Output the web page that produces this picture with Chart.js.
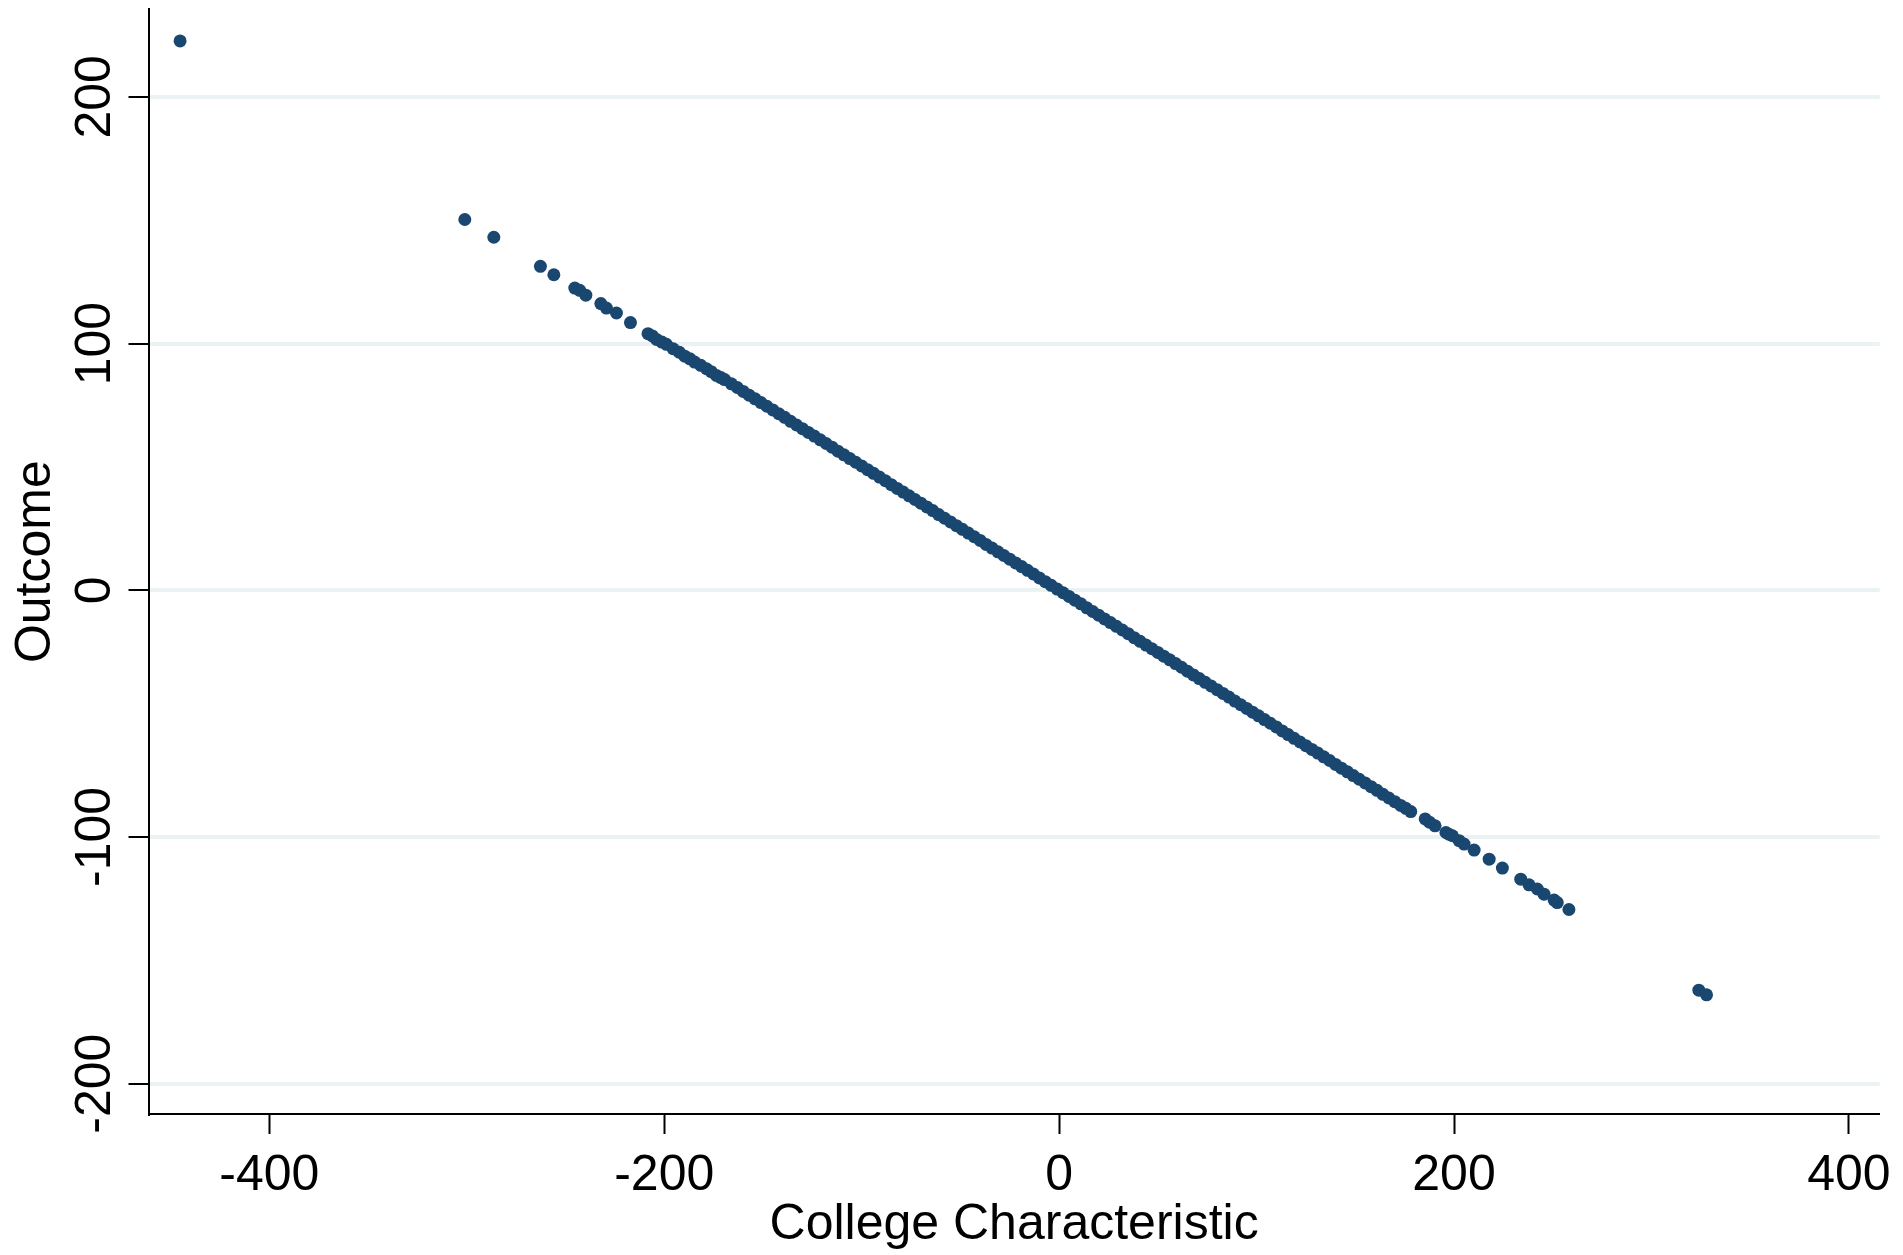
<!DOCTYPE html>
<html>
<head>
<meta charset="utf-8">
<script src="https://cdn.jsdelivr.net/npm/chart.js@4.4.1/dist/chart.umd.min.js"></script>
<style>
  html, body { margin: 0; padding: 0; background: #fff; }
</style>
</head>
<body>
<canvas id="scatter" width="1903" height="1255"></canvas>
<script>
// values
const collegeX = [
  -445.2, -301.0, -286.3, -262.7, -255.9, -245.3, -242.8, -239.7, -232.1, -229.3,
  -224.2, -217.1, -208.2, -206.0, -203.9, -201.2, -198.9, -195.5, -192.4, -189.6,
  -187.0, -184.6, -181.5, -178.6, -176.2, -173.6, -171.3,
  -169.4, -166, -163, -160, -157, -154, -151, -148, -145, -142,
  -139, -136, -133, -130, -127, -124, -121, -118, -115, -112,
  -109, -106, -103, -100, -97, -94, -91, -88, -85, -82,
  -79, -76, -73, -70, -67, -64, -61, -58, -55, -52,
  -49, -46, -43, -40, -37, -34, -31, -28, -25, -22,
  -19, -16, -13, -10, -7, -4, -1, 2, 5, 8,
  11, 14, 17, 20, 23, 26, 29, 32, 35, 38,
  41, 44, 47, 50, 53, 56, 59, 62, 65, 68,
  71, 74, 77, 80, 83, 86, 89, 92, 95, 98,
  101, 104, 107, 110, 113, 116, 119, 122, 125, 128,
  131, 134, 137, 140, 143, 146, 149, 152, 155, 158,
  161, 164, 167, 170, 173, 175.6, 178.1, 185.4, 187.6, 190.4, 195.9, 197.4, 199.2,
  202.6, 205.1, 210.2, 217.8, 224.5, 233.8, 238.0, 242.2, 245.6, 250.7,
  252.3, 258.2, 324.0, 327.9
];
const outcome = [
  222.7, 150.3, 143.1, 131.3, 127.9, 122.5, 121.6, 119.6, 116.2, 114.4,
  112.4, 108.5, 104.0, 103.1, 101.7, 100.6, 99.7, 97.9, 96.5, 94.9,
  93.8, 92.5, 91.2, 89.8, 88.6, 87.1, 86.2,
  85.4, 83.7, 82.2, 80.6, 79.1, 77.6, 76.1, 74.6, 73.1, 71.6,
  70.1, 68.5, 67.0, 65.5, 64.0, 62.5, 61.0, 59.5, 58.0, 56.4,
  54.9, 53.4, 51.9, 50.4, 48.9, 47.4, 45.9, 44.4, 42.8, 41.3,
  39.8, 38.3, 36.8, 35.3, 33.8, 32.3, 30.7, 29.2, 27.7, 26.2,
  24.7, 23.2, 21.7, 20.2, 18.6, 17.1, 15.6, 14.1, 12.6, 11.1,
  9.6, 8.1, 6.6, 5.0, 3.5, 2.0, 0.5, -1.0, -2.5, -4.0,
  -5.5, -7.1, -8.6, -10.1, -11.6, -13.1, -14.6, -16.1, -17.6, -19.2,
  -20.7, -22.2, -23.7, -25.2, -26.7, -28.2, -29.7, -31.2, -32.8, -34.3,
  -35.8, -37.3, -38.8, -40.3, -41.8, -43.3, -44.9, -46.4, -47.9, -49.4,
  -50.9, -52.4, -53.9, -55.4, -57.0, -58.5, -60.0, -61.5, -63.0, -64.5,
  -66.0, -67.5, -69.0, -70.6, -72.1, -73.6, -75.1, -76.6, -78.1, -79.6,
  -81.1, -82.7, -84.2, -85.7, -87.2, -88.4, -89.7, -92.7, -94.0, -95.5, -98.2, -98.9, -99.5,
  -101.5, -102.9, -105.3, -109.0, -112.6, -117.1, -119.4, -121.1, -123.2, -125.6,
  -126.6, -129.4, -162.1, -164.0
];
const xTickValues = [-400, -200, 0, 200, 400];
const yTickValues = [-200, -100, 0, 100, 200];

const FONT = '"Liberation Sans", Arial, Helvetica, sans-serif';
const NAVY = '#1a476f';

const points = collegeX.map((x, i) => ({ x: x, y: outcome[i] }));

// y tick labels in Stata are turned to read upwards
const yLabels = {
  id: 'yLabels',
  afterDraw(chart) {
    const ys = chart.scales.y;
    const ctx = chart.ctx;
    ctx.save();
    ctx.font = '50px ' + FONT;
    ctx.fillStyle = '#000';
    ctx.textAlign = 'center';
    ctx.textBaseline = 'alphabetic';
    yTickValues.forEach(v => {
      ctx.save();
      ctx.translate(110, ys.getPixelForValue(v));
      ctx.rotate(-Math.PI / 2);
      ctx.fillText(String(v), 0, 0);
      ctx.restore();
    });
    ctx.restore();
  }
};

new Chart(document.getElementById('scatter'), {
  type: 'scatter',
  data: {
    datasets: [{
      label: 'Outcome',
      data: points,
      backgroundColor: NAVY,
      borderWidth: 0,
      pointRadius: 6.5,
      pointHoverRadius: 6.5
    }]
  },
  options: {
    responsive: false,
    animation: false,
    layout: { padding: { top: 9.3, right: 22, left: 0, bottom: 0 } },
    plugins: {
      legend: { display: false },
      tooltip: { enabled: false }
    },
    scales: {
      x: {
        type: 'linear',
        min: -461.2,
        max: 415.6,
        afterBuildTicks: s => { s.ticks = xTickValues.map(v => ({ value: v })); },
        afterFit: s => { s.height = 141; },
        border: { display: true, color: '#000', width: 2 },
        grid: {
          drawOnChartArea: false,
          drawTicks: true,
          tickLength: 20,
          tickColor: '#000',
          tickWidth: 2
        },
        ticks: {
          color: '#000',
          font: { family: FONT, size: 50 },
          padding: 12,
          maxRotation: 0
        },
        title: {
          display: true,
          text: 'College Characteristic',
          color: '#000',
          font: { family: FONT, size: 50 },
          padding: { top: -4, bottom: 0 }
        }
      },
      y: {
        type: 'linear',
        min: -212.3,
        max: 235.5,
        afterBuildTicks: s => { s.ticks = yTickValues.map(v => ({ value: v })); },
        afterFit: s => { s.width = 148.5; },
        border: { display: true, color: '#000', width: 2 },
        grid: {
          color: '#eaf2f3',
          lineWidth: 4,
          drawTicks: true,
          tickLength: 20,
          tickColor: '#000',
          tickWidth: 2
        },
        ticks: { display: false },
        title: {
          display: true,
          text: 'Outcome',
          color: '#000',
          font: { family: FONT, size: 50 },
          padding: { top: 6, bottom: 0 }
        }
      }
    }
  },
  plugins: [yLabels]
});
</script>
</body>
</html>
